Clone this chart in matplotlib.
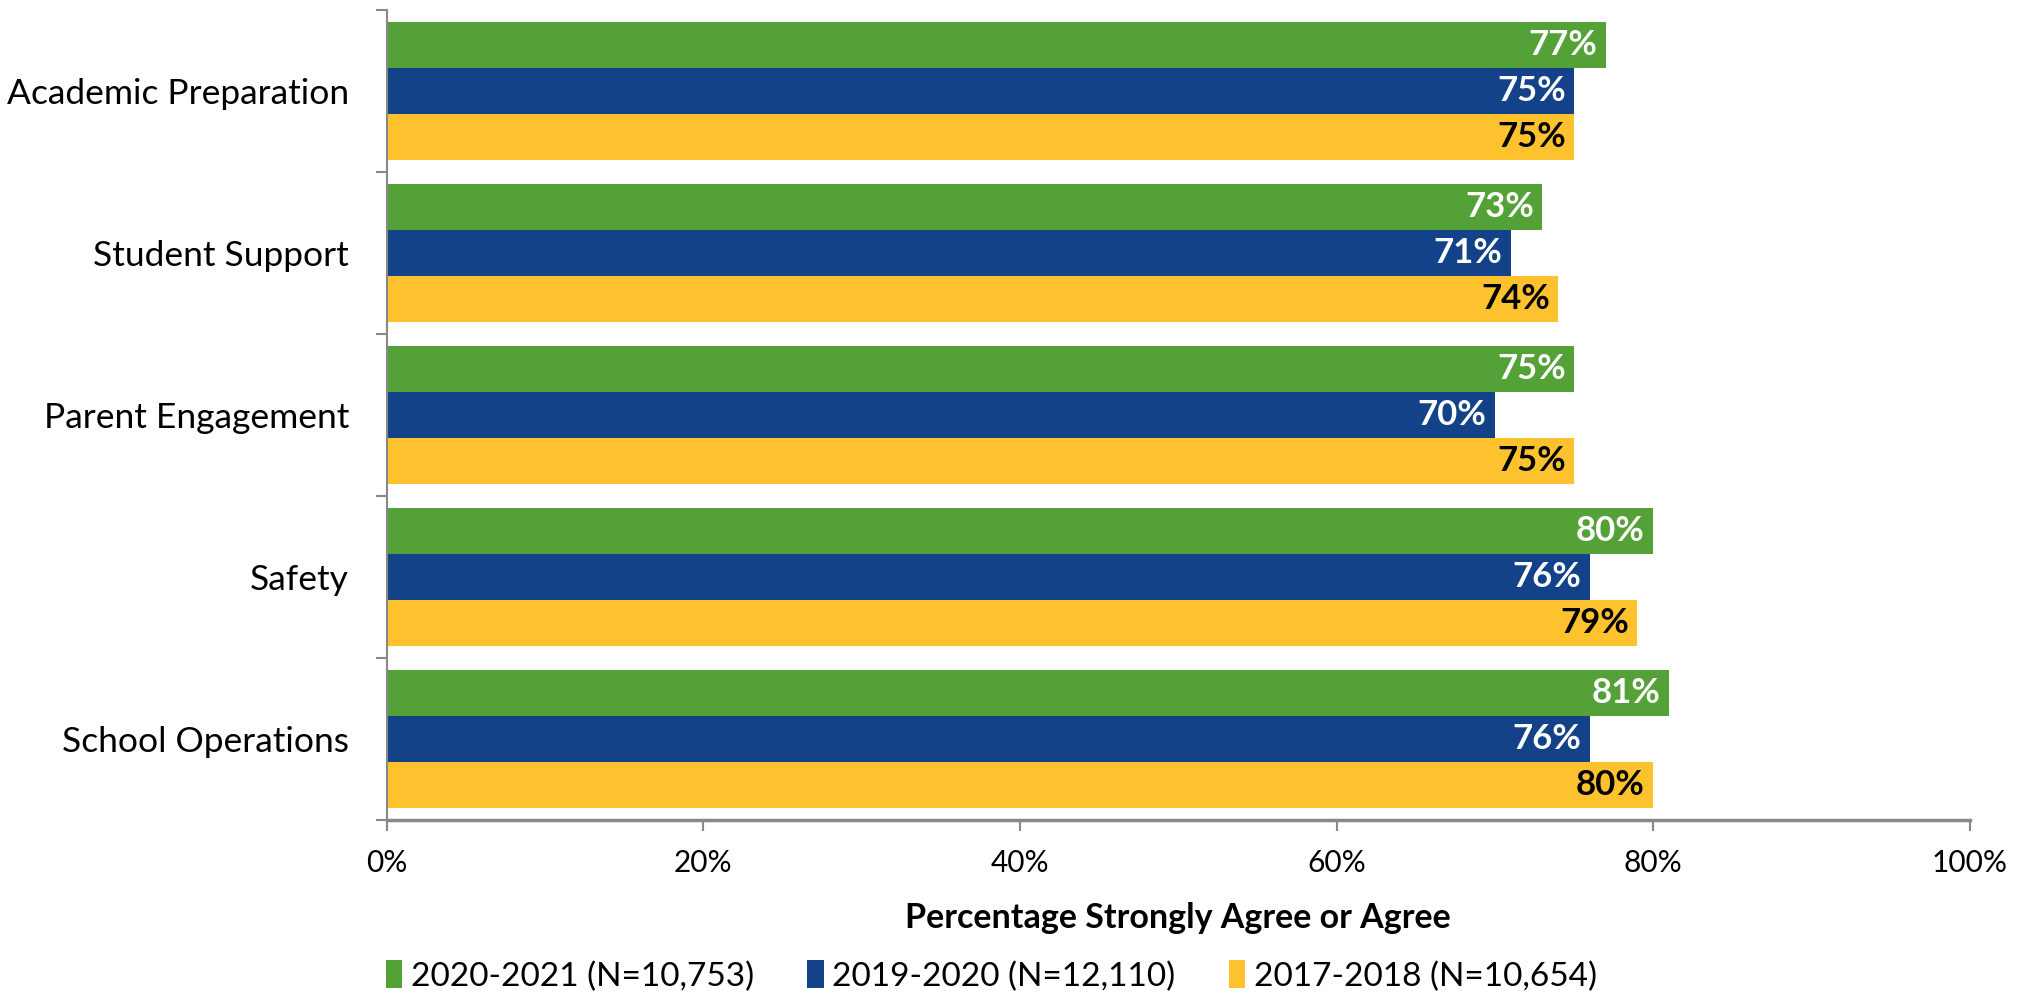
import matplotlib
matplotlib.use("Agg")
import matplotlib.pyplot as plt
import numpy as np

plt.rcParams['font.family'] = ['Lato', 'DejaVu Sans']

categories = ['Academic Preparation', 'Student Support', 'Parent Engagement', 'Safety', 'School Operations']
series_names = ['2020-2021 (N=10,753)', '2019-2020 (N=12,110)', '2017-2018 (N=10,654)']
v2021 = [77, 73, 75, 80, 81]
v2020 = [75, 71, 70, 76, 76]
v2018 = [75, 74, 75, 79, 80]
colors = ['#54A138', '#134289', '#FFC22F']
text_colors = ['white', 'white', 'black']

fig = plt.figure(figsize=(20.35, 9.97), dpi=100)
ax = fig.add_axes([0.190, 0.1775, 0.778, 0.8125])

y = np.arange(len(categories))
h = 0.284
offsets = [-h, 0, h]
for vals, off, c, tc, name in zip([v2021, v2020, v2018], offsets, colors, text_colors, series_names):
    ax.barh(y + off, vals, height=h, color=c, label=name)
    for v, yy in zip(vals, y + off):
        ax.annotate(f'{v}%', (v, yy), xytext=(-6, 0), textcoords='offset points',
                    ha='right', va='center', color=tc, fontsize=25, fontweight='bold')

ax.set_ylim(len(categories) - 0.5, -0.5)
ax.set_xlim(0, 100)
ax.set_xticks(range(0, 101, 20))
ax.set_xticklabels([f'{t}%' for t in range(0, 101, 20)], fontsize=21.5)
ax.set_yticks(y)
ax.set_yticklabels(categories, fontsize=25.5)
ax.set_yticks(np.arange(-0.5, len(categories), 1), minor=True)
ax.tick_params(axis='y', which='major', length=0, pad=27)
ax.tick_params(axis='y', which='minor', length=8, color='#888888', width=1.5)
ax.tick_params(axis='x', length=8, color='#888888', width=1.5, pad=13)

for s in ['top', 'right']:
    ax.spines[s].set_visible(False)
ax.spines['left'].set_color('#888888')
ax.spines['bottom'].set_color('#888888')
ax.spines['left'].set_linewidth(1.5)
ax.spines['bottom'].set_linewidth(2.5)

ax.set_xlabel('Percentage Strongly Agree or Agree', fontsize=24.5, fontweight='bold', labelpad=18)

fig.legend(loc='center', bbox_to_anchor=(0.487, 0.021), ncol=3, frameon=False,
           fontsize=24, handlelength=0.5, handleheight=0.9, columnspacing=1.6, handletextpad=0.25)

fig.savefig('out.png', dpi=100)
